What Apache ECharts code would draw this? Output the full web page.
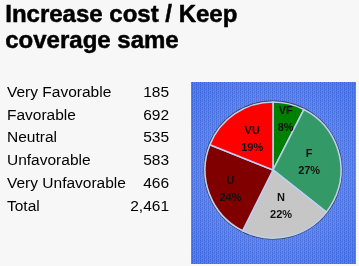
<!DOCTYPE html>
<html><head><meta charset="utf-8">
<script src="https://cdn.jsdelivr.net/npm/echarts@6/dist/echarts.min.js"></script>
<style>html,body{margin:0;padding:0;background:#f7f7f7}#c{width:359px;height:266px}</style>
</head><body><div id="c"></div>
<script>
const titleLines = ['Increase cost / Keep', 'coverage same'];
const categories = ['Very Favorable', 'Favorable', 'Neutral', 'Unfavorable', 'Very Unfavorable'];
const abbreviations = ['VF', 'F', 'N', 'U', 'VU'];
const counts = [185, 692, 535, 583, 466];
const percentLabels = ['8%', '27%', '22%', '24%', '19%'];
const totalLabel = 'Total';
const totalValue = '2,461';

const colors = ['#008000', '#339966', '#c6c6c6', '#800000', '#ff0000'];
const labelNudge = { 0: [4, -15], 3: [-8, 6] };

const chart = echarts.init(document.getElementById('c'), null, { renderer: 'canvas' });

// deterministic dither texture for the blue panel
const tex = document.createElement('canvas');
tex.width = 4; tex.height = 4;
const tctx = tex.getContext('2d');
const texCols = ['rgba(40,80,230,0.35)', 'rgba(120,170,255,0.3)', 'rgba(60,120,240,0.25)', 'rgba(150,140,240,0.3)'];
for (let yy = 0; yy < 4; yy++) for (let xx = 0; xx < 4; xx++) {
  tctx.fillStyle = texCols[(xx * 3 + yy * 2 + ((xx * yy) % 3)) % 4];
  tctx.fillRect(xx, yy, 1, 1);
}

const graphic = [];
titleLines.forEach((t, i) => {
  graphic.push({
    type: 'text', left: 5, top: 3 + i * 26.5, z: 5,
    style: { text: t, font: 'bold 24px "Liberation Sans", Arial, sans-serif', fill: '#000', stroke: '#000', lineWidth: 0.5 }
  });
});
const rows = categories.map((c, i) => [c, counts[i].toLocaleString('en-US')]).concat([[totalLabel, totalValue]]);
rows.forEach((r, i) => {
  const y = 92.5 + i * 22.85;
  graphic.push({ type: 'text', x: 7, y: y, z: 5,
    style: { text: r[0], font: '15.5px "Liberation Sans", Arial, sans-serif', fill: '#000', verticalAlign: 'middle', align: 'left' } });
  graphic.push({ type: 'text', x: 169, y: y, z: 5,
    style: { text: r[1], font: '15.5px "Liberation Sans", Arial, sans-serif', fill: '#000', verticalAlign: 'middle', align: 'right' } });
});
graphic.push({
  type: 'rect', z: -10, shape: { x: 191, y: 82, width: 165, height: 182 },
  style: { fill: new echarts.graphic.RadialGradient(0.5, 0.5, 0.72, [
    { offset: 0, color: '#8099e4' }, { offset: 1, color: '#4570e2' }]) }
});
graphic.push({
  type: 'rect', z: -9, shape: { x: 191, y: 82, width: 165, height: 182 },
  style: { fill: { image: tex, repeat: 'repeat' } }
});

const total = counts.reduce((a, b) => a + b, 0);

chart.setOption({
  backgroundColor: '#f7f7f7',
  animation: false,
  graphic: graphic,
  series: [
    {
      type: 'pie', silent: true, center: [273, 170], radius: 69.5, z: 1,
      label: { show: false }, labelLine: { show: false },
      itemStyle: { color: '#3a3a4a' },
      data: [{ value: total, name: 'outline' }]
    },
    {
      type: 'pie', center: [273, 170], radius: 68, startAngle: 90, clockwise: true, z: 2,
      itemStyle: { borderColor: '#bcd0f2', borderWidth: 1.6 },
      label: {
        show: true, position: 'inside', color: '#111',
        fontFamily: '"Liberation Sans", Arial, sans-serif', fontWeight: 'bold', fontSize: 11, lineHeight: 17,
        formatter: p => abbreviations[p.dataIndex] + '\n' + percentLabels[p.dataIndex]
      },
      labelLine: { show: false },
      data: categories.map((c, i) => ({
        name: c, value: counts[i], itemStyle: { color: colors[i] },
        label: labelNudge[i] ? { offset: labelNudge[i] } : undefined
      }))
    }
  ]
});
</script>
</body></html>
